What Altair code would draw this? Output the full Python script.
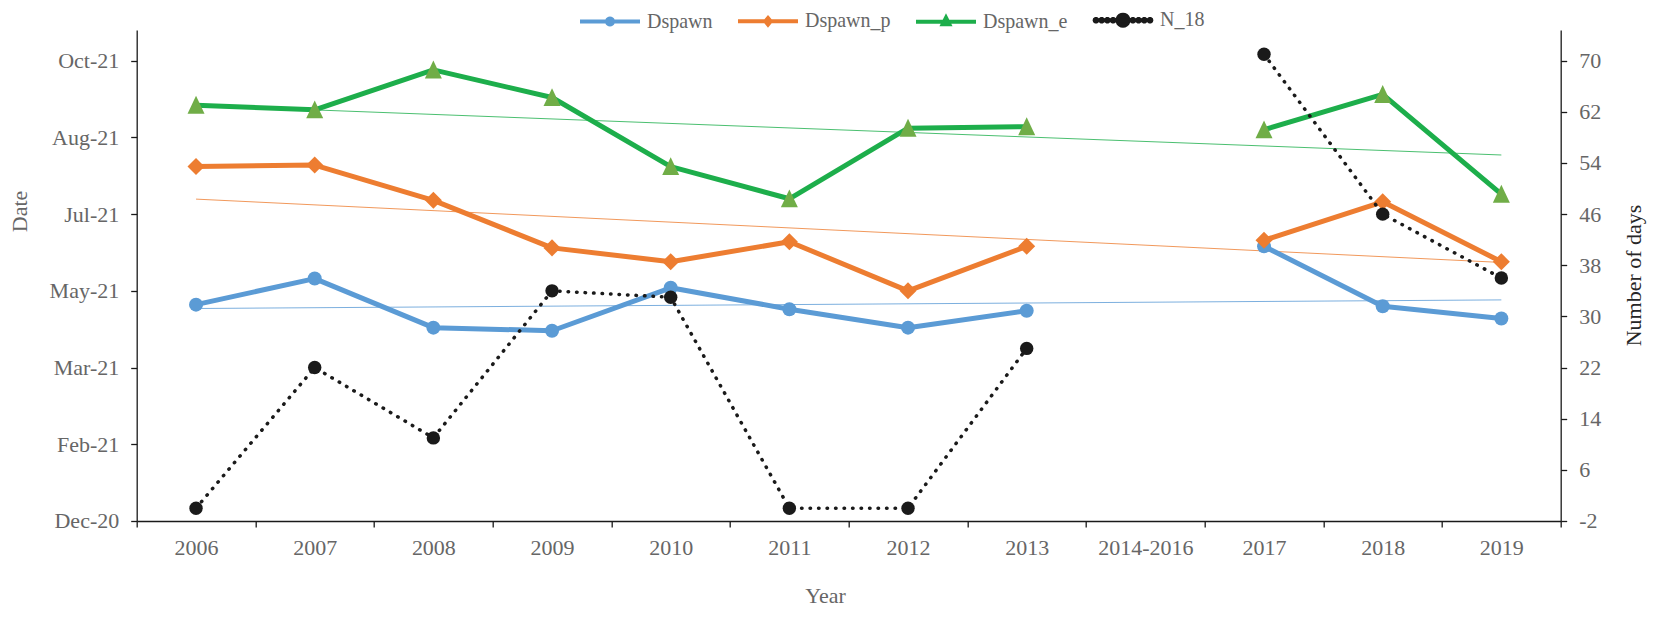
import math
import json
import altair as alt
import pandas as pd

# ---------------- data ----------------
years = ["2006", "2007", "2008", "2009", "2010", "2011", "2012", "2013",
         "2014-2016", "2017", "2018", "2019"]

dspawn = ["2021-05-05", "2021-05-22", "2021-04-20", "2021-04-18", "2021-05-16",
          "2021-05-02", "2021-04-20", "2021-05-01", None, "2021-06-12",
          "2021-05-04", "2021-04-26"]
dspawn_p = ["2021-08-03", "2021-08-04", "2021-07-12", "2021-06-11", "2021-06-02",
            "2021-06-15", "2021-05-14", "2021-06-12", None, "2021-06-16",
            "2021-07-11", "2021-06-02"]
dspawn_e = ["2021-09-12", "2021-09-09", "2021-10-05", "2021-09-17", "2021-08-03",
            "2021-07-13", "2021-08-28", "2021-08-29", None, "2021-08-27",
            "2021-09-19", "2021-07-16"]
n_18 = [0, 22, 11, 34, 33, 0, 0, 25, None, 71, 46, 36]

series_names = ["Dspawn", "Dspawn_p", "Dspawn_e", "N_18"]
date_ticks = ["2020-12-15", "2021-02-03", "2021-03-25", "2021-05-14",
              "2021-07-03", "2021-08-22", "2021-10-11"]
date_domain = ["2020-12-15", "2021-10-31"]
days_ticks = [-2, 6, 14, 22, 30, 38, 46, 54, 62, 70]
days_domain = [-2, 74.8]

# ---------------- style ----------------
FONT = "Liberation Serif"
GREY = "#666666"
line_colors = {"Dspawn": "#5B9BD5", "Dspawn_p": "#ED7D31", "Dspawn_e": "#1DAE4B", "N_18": "#1A1A1A"}
marker_colors = {"Dspawn": "#5B9BD5", "Dspawn_p": "#ED7D31", "Dspawn_e": "#70AD47", "N_18": "#1A1A1A"}

W, H = 1424, 491
PAD_L, PAD_T, PAD_R, PAD_B = 128.7, 22, 86, 88
CATW = W / len(years)
PLOT_LEFT = 8 + PAD_L
PLOT_TOP = 8 + PAD_T


def dt(s):
    y, m, d = map(int, s.split("-"))
    return alt.DateTime(year=y, month=m, date=d, utc=True)


def poly(cx, cy, rx, ry=None, n=20):
    ry = rx if ry is None else ry
    pts = [(cx + rx * math.cos(2 * math.pi * i / n), cy + ry * math.sin(2 * math.pi * i / n)) for i in range(n)]
    return "M" + "L".join(f"{x:.4f},{y:.4f}" for x, y in pts) + "Z"


# legend symbols: 1 unit = 30 px (symbolSize 3600); every path spans -1..1 horizontally
SPAN = "M-1,0L1,0"
legend_paths = [
    SPAN + poly(0, 0, 0.1),
    SPAN + "M0,-0.11L0.09,0L0,0.11L-0.09,0Z",
    SPAN + "M0,-0.13L0.11,0.09L-0.11,0.09Z",
    SPAN + "".join(poly(s * d, 0, 0.045, n=10) for d in [0.33, 0.52, 0.71, 0.9] for s in [-1, 1]) + poly(0, 0, 0.185),
]
legend_stroke_widths = [4, 4, 4, 0]
TRI = "M0,-1.1L1,1L-1,1Z"

# ---------------- tables ----------------
rows = []
for i, yr in enumerate(years):
    for name, arr in (("Dspawn", dspawn), ("Dspawn_p", dspawn_p), ("Dspawn_e", dspawn_e)):
        rows.append({"year": yr, "xi": i + 1, "series": name, "date": arr[i]})
dates_df = pd.DataFrame(rows)
n_df = pd.DataFrame({"year": years, "xi": list(range(1, len(years) + 1)), "n": n_18})

# ---------------- encodings ----------------
x_axis = alt.Axis(
    values=[i + 0.5 for i in range(len(years) + 1)],
    labelExpr=f"{json.dumps(years)}[floor(datum.value)] || ''",
    labelOffset=CATW / 2, labelPadding=11, labelFlush=False, labelOverlap=False,
    title="Year", titleX=825 - PLOT_LEFT, titleY=75, titleAlign="center", titleBaseline="middle",
)
X = alt.X("xi:Q", scale=alt.Scale(domain=[0.5, len(years) + 0.5], nice=False, zero=False), axis=x_axis)
ORDER = alt.Order("xi:Q")

left_axis = alt.Axis(
    orient="left", values=[dt(s) for s in date_ticks],
    labelExpr="utcFormat(datum.value, '%b-%y')", labelPadding=12,
    title="Date", titleX=20 - PLOT_LEFT, titleY=211 - PLOT_TOP, titleAngle=270,
    titleAlign="center", titleBaseline="middle",
)
Y_L = alt.Y("t:T", scale=alt.Scale(type="utc", domain=[dt(s) for s in date_domain], nice=False), axis=left_axis)

right_axis = alt.Axis(
    orient="right", values=days_ticks, labelExpr="'' + datum.value", labelPadding=12,
    title="Number of days", titleColor="#262626", titleX=1634 - (PLOT_LEFT + W), titleY=245,
    titleAngle=270, titleAlign="center", titleBaseline="middle",
)
Y_R = alt.Y("n:Q", scale=alt.Scale(domain=days_domain, nice=False, zero=False), axis=right_axis)

# ---------------- date series ----------------
base = (alt.Chart(dates_df)
        .transform_filter("isValid(datum.date)")
        .transform_calculate(t="time(toDate(datum.date))", seg="datum.xi < 9 ? 0 : 1"))

names3 = series_names[:3]
trend = (base.transform_regression("xi", "t", groupby=["series"])
         .mark_line(strokeWidth=1, opacity=0.8)
         .encode(x=X, y=Y_L, order=ORDER,
                 color=alt.Color("series:N", scale=alt.Scale(domain=names3, range=[line_colors[n] for n in names3]),
                                 legend=None)))

layers = [trend]
for name, shape, size in (("Dspawn", "circle", 196), ("Dspawn_p", "diamond", 290), ("Dspawn_e", TRI, 289)):
    s = base.transform_filter(alt.datum.series == name)
    layers.append(s.mark_line(color=line_colors[name], strokeWidth=5, strokeJoin="round", strokeCap="round")
                  .encode(x=X, y=Y_L, detail="seg:N", order=ORDER))
    layers.append(s.mark_point(filled=True, opacity=1, shape=shape, size=size, color=marker_colors[name],
                               strokeWidth=0)
                  .encode(x=X, y=Y_L))
left = alt.layer(*layers)

# ---------------- N_18 ----------------
nbase = (alt.Chart(n_df)
         .transform_filter("isValid(datum.n)")
         .transform_calculate(seg="datum.xi < 9 ? 0 : 1"))
right = alt.layer(
    nbase.mark_line(color=line_colors["N_18"], strokeWidth=3.5, strokeDash=[0.5, 8], strokeCap="round")
    .encode(x=X, y=Y_R, detail="seg:N", order=ORDER),
    nbase.mark_point(filled=True, opacity=1, shape="circle", size=180, color=marker_colors["N_18"], strokeWidth=0)
    .encode(x=X, y=Y_R),
)

# ---------------- legend ----------------
LEG_CX = 608          # page x of first legend symbol centre
LEG_CY = 18           # page y of legend row centre
legend = alt.Legend(
    title=None, orient="none", legendX=LEG_CX - 30 - PLOT_LEFT, legendY=LEG_CY - 30 - PLOT_TOP,
    direction="horizontal", symbolSize=3600, symbolOpacity=1, labelOffset=5, columnPadding=17,
    padding=0, labelFont=FONT, labelFontSize=20, labelColor=GREY,
)
empty = pd.DataFrame({"series": pd.Series([], dtype="object")})
leg = alt.Chart(empty).mark_point(filled=True).encode(
    fill=alt.Fill("series:N", scale=alt.Scale(domain=series_names, range=[marker_colors[n] for n in series_names]),
                  legend=legend),
    stroke=alt.Stroke("series:N", scale=alt.Scale(domain=series_names, range=[line_colors[n] for n in series_names]),
                      legend=legend),
    shape=alt.Shape("series:N", scale=alt.Scale(domain=series_names, range=legend_paths), legend=legend),
    strokeWidth=alt.StrokeWidth("series:N", scale=alt.Scale(domain=series_names, range=legend_stroke_widths),
                                legend=legend),
)

chart = (
    alt.layer(left, right, leg)
    .resolve_scale(y="independent")
    .properties(width=W, height=H, background="white",
                padding={"left": PAD_L, "top": PAD_T, "right": PAD_R, "bottom": PAD_B},
                autosize=alt.AutoSizeParams(type="none"))
    .configure_view(stroke=None)
    .configure_axis(grid=False, domainColor="#1A1A1A", domainWidth=1.3, tickColor="#1A1A1A", tickWidth=1.3,
                    tickSize=6, labelFont=FONT, labelFontSize=22, labelColor=GREY,
                    titleFont=FONT, titleFontSize=22, titleColor=GREY, titleFontWeight="normal")
)

chart.save("out.html", embed_options={"renderer": "svg", "actions": False})
